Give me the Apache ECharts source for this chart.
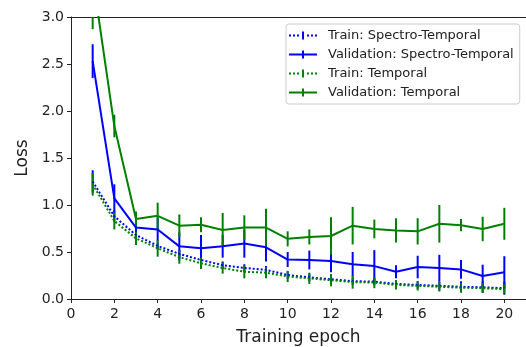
<!DOCTYPE html>
<html>
<head>
<meta charset="utf-8">
<script src="https://cdn.jsdelivr.net/npm/echarts@6/dist/echarts.min.js"></script>
<style>
    html, body { margin: 0; padding: 0; background: #fff; }
    #echar { width: 526px; height: 347px; }
</style>
</head>
<body>
<div id="echar"></div>
<script>
// 数据
var epochs = [1, 2, 3, 4, 5, 6, 7, 8, 9, 10, 11, 12, 13, 14, 15, 16, 17, 18, 19, 20];
var trainST = [1.25, 0.88, 0.68, 0.565, 0.48, 0.415, 0.36, 0.33, 0.31, 0.255, 0.23, 0.21, 0.19, 0.185, 0.16, 0.15, 0.14, 0.13, 0.125, 0.115];
var trainSTErr = [0.12, 0.06, 0.05, 0.04, 0.04, 0.04, 0.04, 0.04, 0.04, 0.04, 0.04, 0.04, 0.04, 0.04, 0.04, 0.04, 0.05, 0.06, 0.06, 0.07];
var valST = [2.53, 1.07, 0.76, 0.74, 0.56, 0.54, 0.56, 0.59, 0.55, 0.42, 0.415, 0.405, 0.37, 0.35, 0.29, 0.34, 0.33, 0.315, 0.245, 0.285];
var valSTErr = [0.18, 0.15, 0.05, 0.13, 0.15, 0.14, 0.12, 0.15, 0.15, 0.08, 0.1, 0.12, 0.13, 0.17, 0.07, 0.12, 0.14, 0.1, 0.12, 0.17];
var trainT = [1.22, 0.83, 0.645, 0.54, 0.445, 0.38, 0.33, 0.29, 0.28, 0.24, 0.22, 0.2, 0.18, 0.175, 0.15, 0.14, 0.13, 0.12, 0.115, 0.105];
var trainTErr = [0.12, 0.09, 0.07, 0.09, 0.07, 0.06, 0.06, 0.07, 0.06, 0.06, 0.06, 0.065, 0.07, 0.06, 0.05, 0.05, 0.05, 0.05, 0.05, 0.05];
var valT = [3.43, 1.84, 0.85, 0.885, 0.78, 0.79, 0.735, 0.76, 0.76, 0.64, 0.66, 0.67, 0.78, 0.745, 0.73, 0.72, 0.80, 0.785, 0.745, 0.80];
var valTErr = [0.56, 0.12, 0.08, 0.14, 0.12, 0.08, 0.18, 0.13, 0.2, 0.08, 0.08, 0.2, 0.2, 0.1, 0.13, 0.14, 0.2, 0.065, 0.13, 0.17];

var xTicks = [0, 2, 4, 6, 8, 10, 12, 14, 16, 18, 20];

var names = ['Train: Spectro-Temporal', 'Validation: Spectro-Temporal', 'Train: Temporal', 'Validation: Temporal'];

var BLUE = '#0000ff';
var GREEN = '#008000';
var FONT = 'DejaVu Sans';

// 图例图标
var iconDot = 'path://M0,3h2v2h-2z M4,3h2v2h-2z M8,3h2v2h-2z M18,3h2v2h-2z M22,3h2v2h-2z M26,3h2v2h-2z M13,0h2v8h-2z';
var iconSolid = 'path://M0,3h28v2h-28z M13,0h2v8h-2z';

function pairs(ys) {
    return epochs.map(function (x, i) { return [x, ys[i]]; });
}

function errData(ys, errs) {
    return epochs.map(function (x, i) { return [x, ys[i], errs[i]]; });
}

function lineSeries(name, ys, color, dotted) {
    return {
        name: name,
        type: 'line',
        data: pairs(ys),
        symbol: 'none',
        clip: true,
        silent: true,
        lineStyle: {
            color: color,
            width: 2,
            type: dotted ? [2, 2] : 'solid'
        },
        itemStyle: { color: color }
    };
}

function errSeries(name, ys, errs, color) {
    return {
        name: name,
        type: 'custom',
        data: errData(ys, errs),
        clip: true,
        silent: true,
        encode: { x: 0, y: 1 },
        renderItem: function (params, api) {
            var x = api.value(0);
            var y = api.value(1);
            var e = api.value(2);
            var p1 = api.coord([x, y - e]);
            var p2 = api.coord([x, y + e]);
            return {
                type: 'line',
                shape: { x1: p1[0], y1: p1[1], x2: p2[0], y2: p2[1] },
                style: { stroke: color, lineWidth: 2 }
            };
        }
    };
}

var myChart = echarts.init(document.getElementById('echar'), null, { renderer: 'canvas' });

var option = {
    animation: false,
    backgroundColor: '#fff',
    textStyle: { fontFamily: FONT },
    grid: {
        left: 71,
        right: 0,
        top: 17,
        bottom: 48,
        containLabel: false,
        outerBoundsMode: 'none'
    },
    legend: {
        left: 286,
        top: 24,
        orient: 'vertical',
        padding: [5, 6, 5, 3],
        itemWidth: 28,
        itemHeight: 8,
        itemGap: 6,
        backgroundColor: 'rgba(255,255,255,0.85)',
        borderColor: '#cccccc',
        borderWidth: 1,
        borderRadius: 3,
        itemStyle: { borderWidth: 0 },
        textStyle: {
            fontFamily: FONT,
            fontSize: 13,
            color: '#222',
            padding: [0, 0, 0, 6]
        },
        data: [
            { name: names[0], icon: iconDot, itemStyle: { color: BLUE } },
            { name: names[1], icon: iconSolid, itemStyle: { color: BLUE } },
            { name: names[2], icon: iconDot, itemStyle: { color: GREEN } },
            { name: names[3], icon: iconSolid, itemStyle: { color: GREEN } }
        ]
    },
    xAxis: [{
        type: 'value',
        min: 0,
        max: 21,
        interval: 2,
        name: 'Training epoch',
        nameLocation: 'middle',
        nameGap: 30,
        nameTextStyle: { fontFamily: FONT, fontSize: 17, color: '#222' },
        splitLine: { show: false },
        axisLine: { lineStyle: { color: '#222', width: 1 } },
        axisTick: { show: true, length: 4, customValues: xTicks, lineStyle: { color: '#222' } },
        axisLabel: { fontFamily: FONT, fontSize: 14, color: '#222', margin: 8, customValues: xTicks }
    }, {
        type: 'value',
        position: 'top',
        min: 0,
        max: 21,
        splitLine: { show: false },
        axisLine: { show: true, onZero: false, lineStyle: { color: '#222', width: 1 } },
        axisTick: { show: false },
        axisLabel: { show: false }
    }],
    yAxis: {
        type: 'value',
        min: 0,
        max: 3,
        interval: 0.5,
        name: 'Loss',
        nameLocation: 'middle',
        nameGap: 39,
        nameTextStyle: { fontFamily: FONT, fontSize: 17, color: '#222' },
        splitLine: { show: false },
        axisLine: { show: true, lineStyle: { color: '#222', width: 1 } },
        axisTick: { show: true, length: 4, lineStyle: { color: '#222' } },
        axisLabel: {
            fontFamily: FONT,
            fontSize: 14,
            color: '#222',
            margin: 7,
            formatter: function (v) { return v.toFixed(1); }
        }
    },
    series: [
        lineSeries(names[0], trainST, BLUE, true),
        errSeries(names[0], trainST, trainSTErr, BLUE),
        lineSeries(names[1], valST, BLUE, false),
        errSeries(names[1], valST, valSTErr, BLUE),
        lineSeries(names[2], trainT, GREEN, true),
        errSeries(names[2], trainT, trainTErr, GREEN),
        lineSeries(names[3], valT, GREEN, false),
        errSeries(names[3], valT, valTErr, GREEN)
    ]
};

myChart.setOption(option);
</script>
</body>
</html>
